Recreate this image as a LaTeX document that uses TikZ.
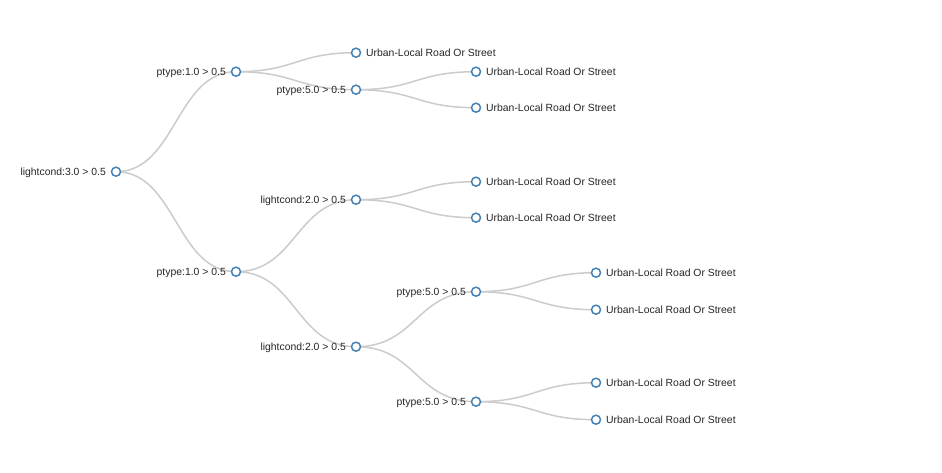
\documentclass[tikz,border=0pt]{standalone}
\usepackage{fontspec}
\setmainfont{Liberation Sans}
\usetikzlibrary{backgrounds}
\definecolor{nodeblue}{HTML}{4682B4}
\definecolor{linkgray}{HTML}{CCCCCC}
\begin{document}
\begin{tikzpicture}[x=1pt,y=-1pt,
  tn/.style={circle,draw=nodeblue,fill=white,line width=1.5pt,minimum size=9pt,inner sep=0pt},
  lbl/.style={font=\fontsize{10.4pt}{12pt}\selectfont,inner sep=0pt,text=black!85},
  lft/.style={lbl,anchor=base east},
  rgt/.style={lbl,anchor=base west},
  lnk/.style={draw=linkgray,line width=1.5pt,out=0,in=180,out distance=60pt,in distance=60pt}]
\useasboundingbox (0,-0.7) rectangle (942,471.3);
% nodes
\node[tn] (r) at (116,171) {};
\node[tn] (a) at (236,71) {};
\node[tn] (b) at (236,271) {};
\node[tn] (a1) at (356,52) {};
\node[tn] (a2) at (356,89) {};
\node[tn] (a2a) at (476,71) {};
\node[tn] (a2b) at (476,107) {};
\node[tn] (b1) at (356,199) {};
\node[tn] (b1a) at (476,181) {};
\node[tn] (b1b) at (476,217) {};
\node[tn] (b2) at (356,346) {};
\node[tn] (b2a) at (476,291) {};
\node[tn] (b2a1) at (596,272) {};
\node[tn] (b2a2) at (596,309) {};
\node[tn] (b2b) at (476,401) {};
\node[tn] (b2b1) at (596,382) {};
\node[tn] (b2b2) at (596,419) {};
% links
\begin{scope}[on background layer]
\fill[white] (0,-0.7) rectangle (942,471.3);
\path[lnk] (r.center) to (a.center);
\path[lnk] (r.center) to (b.center);
\path[lnk] (a.center) to (a1.center);
\path[lnk] (a.center) to (a2.center);
\path[lnk] (a2.center) to (a2a.center);
\path[lnk] (a2.center) to (a2b.center);
\path[lnk] (b.center) to (b1.center);
\path[lnk] (b.center) to (b2.center);
\path[lnk] (b1.center) to (b1a.center);
\path[lnk] (b1.center) to (b1b.center);
\path[lnk] (b2.center) to (b2a.center);
\path[lnk] (b2.center) to (b2b.center);
\path[lnk] (b2a.center) to (b2a1.center);
\path[lnk] (b2a.center) to (b2a2.center);
\path[lnk] (b2b.center) to (b2b1.center);
\path[lnk] (b2b.center) to (b2b2.center);
\end{scope}
% labels
\node[lft] (lr) at ([xshift=-10pt,yshift=-3.5pt]r.center) {lightcond:3.0 > 0.5};
\node[lft] (la) at ([xshift=-10pt,yshift=-3.5pt]a.center) {ptype:1.0 > 0.5};
\node[lft] (lb) at ([xshift=-10pt,yshift=-3.5pt]b.center) {ptype:1.0 > 0.5};
\node[lft] (la2) at ([xshift=-10pt,yshift=-3.5pt]a2.center) {ptype:5.0 > 0.5};
\node[lft] (lb1) at ([xshift=-10pt,yshift=-3.5pt]b1.center) {lightcond:2.0 > 0.5};
\node[lft] (lb2) at ([xshift=-10pt,yshift=-3.5pt]b2.center) {lightcond:2.0 > 0.5};
\node[lft] (lb2a) at ([xshift=-10pt,yshift=-3.5pt]b2a.center) {ptype:5.0 > 0.5};
\node[lft] (lb2b) at ([xshift=-10pt,yshift=-3.5pt]b2b.center) {ptype:5.0 > 0.5};
\node[rgt] (la1) at ([xshift=10pt,yshift=-3.5pt]a1.center) {Urban-Local Road Or Street};
\node[rgt] (la2a) at ([xshift=10pt,yshift=-3.5pt]a2a.center) {Urban-Local Road Or Street};
\node[rgt] (la2b) at ([xshift=10pt,yshift=-3.5pt]a2b.center) {Urban-Local Road Or Street};
\node[rgt] (lb1a) at ([xshift=10pt,yshift=-3.5pt]b1a.center) {Urban-Local Road Or Street};
\node[rgt] (lb1b) at ([xshift=10pt,yshift=-3.5pt]b1b.center) {Urban-Local Road Or Street};
\node[rgt] (lb2a1) at ([xshift=10pt,yshift=-3.5pt]b2a1.center) {Urban-Local Road Or Street};
\node[rgt] (lb2a2) at ([xshift=10pt,yshift=-3.5pt]b2a2.center) {Urban-Local Road Or Street};
\node[rgt] (lb2b1) at ([xshift=10pt,yshift=-3.5pt]b2b1.center) {Urban-Local Road Or Street};
\node[rgt] (lb2b2) at ([xshift=10pt,yshift=-3.5pt]b2b2.center) {Urban-Local Road Or Street};
\end{tikzpicture}
\end{document}
